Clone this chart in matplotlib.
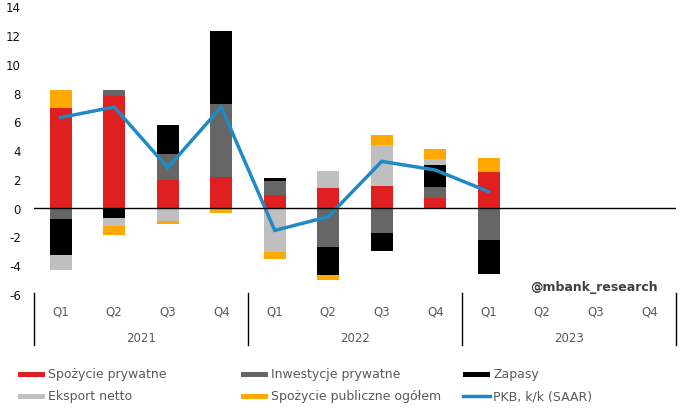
import matplotlib.pyplot as plt
import numpy as np
from matplotlib.patches import Rectangle
from matplotlib.lines import Line2D

plt.rcParams["axes.unicode_minus"] = False

quarters = ["Q1", "Q2", "Q3", "Q4"] * 3
years = ["2021", "2022", "2023"]

spozycie_prywatne = [6.9, 7.77, 1.92, 2.13, 0.88, 1.34, 1.48, 0.65, 2.48, 0, 0, 0]
inwestycje = [-0.8, 0.42, 1.79, 5.06, 0.97, -2.76, -1.79, 0.78, -2.28, 0, 0, 0]
zapasy = [-2.5, -0.75, 2.02, 5.09, 0.19, -1.95, -1.25, 1.54, -2.36, 0, 0, 0]
eksport = [-1.05, -0.53, -0.93, 0, -3.09, 1.19, 2.88, 0.39, 0, 0, 0, 0]
spozycie_publiczne = [1.3, -0.62, -0.23, -0.37, -0.46, -0.33, 0.67, 0.7, 0.95, 0, 0, 0]
pkb = [6.27, 7.0, 2.78, 7.0, -1.58, -0.63, 3.22, 2.62, 1.11]

series = [
    ("Spożycie prywatne", spozycie_prywatne, "#e02020"),
    ("Inwestycje prywatne", inwestycje, "#666666"),
    ("Zapasy", zapasy, "#000000"),
    ("Eksport netto", eksport, "#bfbfbf"),
    ("Spożycie publiczne ogółem", spozycie_publiczne, "#ffa800"),
]
line_color = "#1f8ac5"
txt = "#595959"

W, H = 682, 414
fig = plt.figure(figsize=(W / 100, H / 100), dpi=100)
ax = fig.add_axes([34 / W, (H - 295) / H, (676 - 34) / W, (295 - 7.3) / H])

x = np.arange(12)
pos = np.zeros(12)
neg = np.zeros(12)
for name, vals, col in series:
    v = np.array(vals, dtype=float)
    bottom = np.where(v >= 0, pos, neg)
    ax.bar(x, v, 0.41, bottom=bottom, color=col, linewidth=0)
    pos = pos + np.where(v > 0, v, 0)
    neg = neg + np.where(v < 0, v, 0)

ax.plot(np.arange(len(pkb)), pkb, color=line_color, lw=2.5, solid_joinstyle="miter")
ax.axhline(0, color="black", lw=1)

ax.set_xlim(-0.5, 11.5)
ax.set_ylim(-6, 14)
ax.set_yticks(range(-6, 15, 2))
ax.tick_params(axis="y", length=0, pad=9.5, labelsize=8.5, labelcolor="#111111")
ax.set_xticks([])
for s in ax.spines.values():
    s.set_visible(False)

# two-level category axis
tr = ax.get_xaxis_transform()
for i, q in enumerate(quarters):
    ax.text(i, -0.059, q, transform=tr, ha="center", va="center", fontsize=8.5, color=txt)
for j, yr in enumerate(years):
    ax.text(4 * j + 1.5, -0.15, yr, transform=tr, ha="center", va="center", fontsize=8.5, color=txt)
for b in [-0.5, 3.5, 7.5, 11.5]:
    ax.add_line(Line2D([b, b], [0.005, -0.177], transform=tr, color="black", lw=1, clip_on=False))

fig.text(658 / W, 1 - 288 / H, "@mbank_research", ha="right", va="center",
         fontsize=9, fontweight="bold", color="#404040")

# legend
entries = [
    (18, 375, "Spożycie prywatne", "#e02020", "bar"),
    (241, 375, "Inwestycje prywatne", "#666666", "bar"),
    (463, 375, "Zapasy", "#000000", "bar"),
    (18, 397, "Eksport netto", "#bfbfbf", "bar"),
    (241, 397, "Spożycie publiczne ogółem", "#ffa800", "bar"),
    (463, 397, "PKB, k/k (SAAR)", line_color, "line"),
]
for px, py, label, col, kind in entries:
    if kind == "bar":
        fig.add_artist(Rectangle((px / W, 1 - (py + 2.5) / H), 27 / W, 5 / H,
                                 transform=fig.transFigure, color=col, lw=0))
    else:
        fig.add_artist(Line2D([px / W, (px + 27) / W], [1 - py / H, 1 - py / H],
                              transform=fig.transFigure, color=col, lw=2.5))
    fig.text((px + 30) / W, 1 - py / H, label, ha="left", va="center", fontsize=9, color=txt)

fig.savefig("out.png", dpi=100)
